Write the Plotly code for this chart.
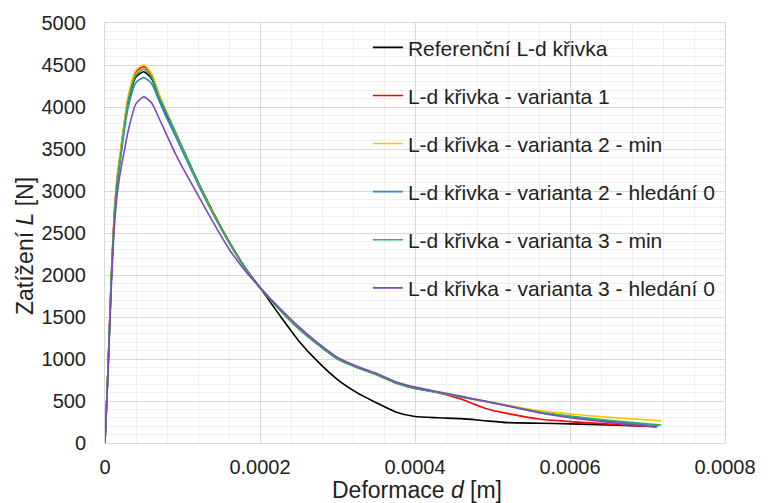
import plotly.graph_objects as go

# Deformation grid (m) shared by the curves (end points added per series)
X_COMMON = [0, 4e-6, 8e-6, 12e-6, 16e-6, 20e-6, 25e-6, 30e-6, 40e-6, 50e-6, 60e-6,
            70e-6, 80e-6, 90e-6, 100e-6, 120e-6, 140e-6, 160e-6, 180e-6, 200e-6,
            225e-6, 250e-6, 275e-6, 300e-6, 325e-6, 350e-6, 375e-6, 400e-6,
            430e-6, 460e-6, 490e-6, 520e-6, 560e-6, 600e-6, 650e-6]

NAMES = ["Referenční L-d křivka",
         "L-d křivka - varianta 1",
         "L-d křivka - varianta 2 - min",
         "L-d křivka - varianta 2 - hledání 0",
         "L-d křivka - varianta 3 - min",
         "L-d křivka - varianta 3 - hledání 0"]

X_END = [700e-6, 712e-6, 718e-6, 715e-6, 718e-6, 712e-6]

L_REF = [0, 900, 1930, 2700, 3150, 3420, 3780, 4060, 4360, 4420, 4340,
         4110, 3900, 3710, 3510, 3110, 2740, 2400, 2100, 1850,
         1525, 1215, 965, 755, 600, 480, 370, 315,
         300, 290, 265, 242, 235, 228, 215, 200]
L_V1 = [0, 910, 1950, 2730, 3180, 3460, 3820, 4110, 4420, 4480, 4390,
        4130, 3920, 3720, 3510, 3100, 2730, 2390, 2090, 1850,
        1590, 1360, 1170, 1000, 900, 815, 715, 650,
        600, 520, 415, 350, 285, 255, 225, 190]
L_V2_MIN = [0, 920, 1960, 2740, 3200, 3480, 3840, 4140, 4440, 4500, 4400,
            4150, 3930, 3720, 3510, 3100, 2730, 2390, 2090, 1850,
            1590, 1365, 1175, 1005, 905, 820, 720, 655,
            605, 550, 500, 450, 385, 345, 305, 265]
L_V2_H0 = [0, 890, 1900, 2660, 3100, 3380, 3720, 4000, 4290, 4350, 4280,
           4070, 3860, 3670, 3470, 3080, 2720, 2390, 2090, 1850,
           1590, 1362, 1172, 1002, 902, 818, 718, 652,
           602, 547, 497, 442, 365, 315, 260, 205]
L_V3_MIN = [0, 900, 1930, 2700, 3150, 3420, 3780, 4080, 4380, 4450, 4360,
            4120, 3920, 3720, 3510, 3100, 2720, 2390, 2090, 1850,
            1590, 1360, 1170, 1000, 900, 815, 715, 650,
            600, 545, 495, 440, 370, 320, 270, 214]
L_V3_H0 = [0, 850, 1820, 2560, 2980, 3240, 3480, 3720, 4040, 4120, 4050,
           3860, 3660, 3460, 3280, 2950, 2620, 2310, 2060, 1850,
           1610, 1385, 1190, 1020, 915, 830, 730, 665,
           610, 555, 500, 440, 360, 300, 245, 190]

SERIES = [L_REF, L_V1, L_V2_MIN, L_V2_H0, L_V3_MIN, L_V3_H0]
COLORS = ["#000000", "#FF0000", "#FFC000", "#2F86CF", "#2DB15E", "#7E48B8"]

X_TICKS = [0, 0.0002, 0.0004, 0.0006, 0.0008]
Y_TICKS = [0, 500, 1000, 1500, 2000, 2500, 3000, 3500, 4000, 4500, 5000]

fig = go.Figure()
for i, (name, ys) in enumerate(zip(NAMES, SERIES)):
    xs = X_COMMON + [X_END[i]]
    fig.add_trace(go.Scatter(
        x=xs, y=ys, mode="lines", name=name, legendgroup=f"g{i}",
        line=dict(color=COLORS[i], width=1.6, shape="spline", smoothing=0.6),
    ))

FONT = "Liberation Sans, Arial, sans-serif"
fig.update_layout(
    width=768, height=503,
    margin=dict(l=105, r=31, t=22, b=60),
    plot_bgcolor="white", paper_bgcolor="white",
    font=dict(family=FONT, size=20, color="#222222"),
    showlegend=True,
    legend=dict(x=0.424, y=0.99, xanchor="left", yanchor="top",
                bgcolor="rgba(0,0,0,0)", borderwidth=0,
                traceorder="grouped", tracegroupgap=17.8,
                font=dict(family=FONT, size=21, color="#222222")),
    annotations=[
        dict(text="Deformace <i>d</i> [m]", xref="paper", yref="paper",
             x=0.504, y=-0.112, xanchor="center", yanchor="middle",
             showarrow=False, font=dict(family=FONT, size=23, color="#222222")),
        dict(text="Zatížení <i>L</i> [N]", xref="paper", yref="paper",
             x=-0.130, y=0.470, xanchor="center", yanchor="middle", textangle=-90,
             showarrow=False, font=dict(family=FONT, size=23, color="#222222")),
    ],
)
fig.update_xaxes(
    range=[0, 0.0008], tickvals=X_TICKS, tickformat=".4~f",
    showgrid=True, gridcolor="#d9d9d9", gridwidth=1,
    minor=dict(dtick=0.00004, tick0=0, showgrid=True, gridcolor="#efefef", gridwidth=1),
    showline=True, linecolor="#d9d9d9", linewidth=1, mirror=True,
    zeroline=False, ticks="", ticklabelstandoff=6,
)
fig.update_yaxes(
    range=[0, 5000], tickvals=Y_TICKS, tickformat="d",
    showgrid=True, gridcolor="#d9d9d9", gridwidth=1,
    minor=dict(dtick=100, tick0=0, showgrid=True, gridcolor="#efefef", gridwidth=1),
    showline=True, linecolor="#d9d9d9", linewidth=1, mirror=True,
    zeroline=False, ticks="", ticklabelstandoff=14,
)

fig.write_html("out.html")
